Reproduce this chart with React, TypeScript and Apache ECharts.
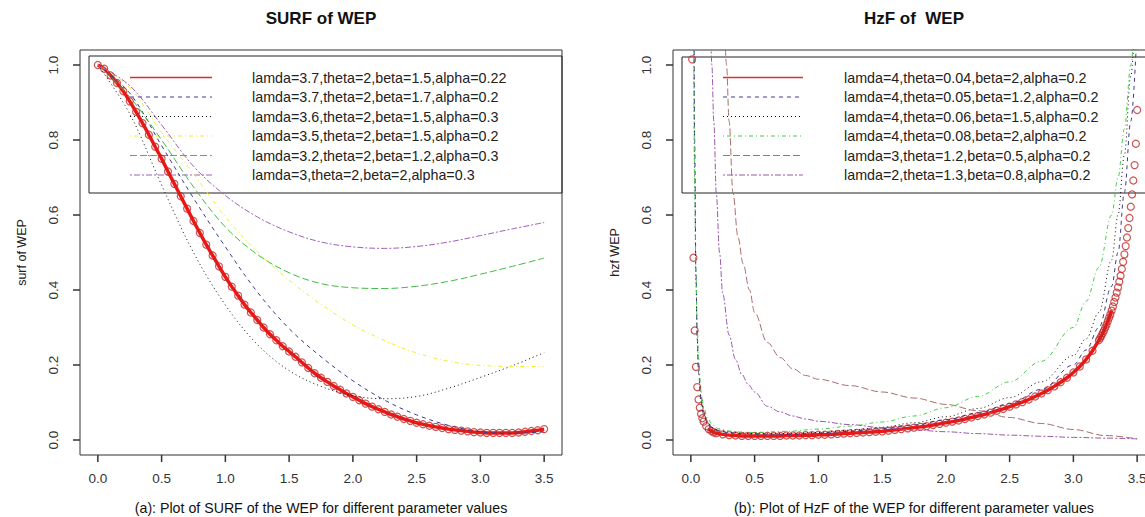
import React, { useEffect, useRef } from "react";
import * as echarts from "echarts";

const FONT = "'Liberation Sans', Arial, Helvetica, sans-serif";

// ---------- tick labels ----------
const xTickValues = [0, 0.5, 1.0, 1.5, 2.0, 2.5, 3.0, 3.5];
const yTickValues = [0, 0.2, 0.4, 0.6, 0.8, 1.0];

// ---------- texts ----------
const titleLeft = "SURF of WEP";
const titleRight = "HzF of  WEP";
const yNameLeft = "surf of WEP";
const yNameRight = "hzf WEP";
const captionLeft = "(a): Plot of SURF of the WEP for different parameter values";
const captionRight = "(b): Plot of HzF of the WEP for different parameter values";

const legendLeft = [
  "lamda=3.7,theta=2,beta=1.5,alpha=0.22",
  "lamda=3.7,theta=2,beta=1.7,alpha=0.2",
  "lamda=3.6,theta=2,beta=1.5,alpha=0.3",
  "lamda=3.5,theta=2,beta=1.5,alpha=0.2",
  "lamda=3.2,theta=2,beta=1.2,alpha=0.3",
  "lamda=3,theta=2,beta=2,alpha=0.3",
];
const legendRight = [
  "lamda=4,theta=0.04,beta=2,alpha=0.2",
  "lamda=4,theta=0.05,beta=1.2,alpha=0.2",
  "lamda=4,theta=0.06,beta=1.5,alpha=0.2",
  "lamda=4,theta=0.08,beta=2,alpha=0.2",
  "lamda=3,theta=1.2,beta=0.5,alpha=0.2",
  "lamda=2,theta=1.3,beta=0.8,alpha=0.2",
];

// ---------- styles ----------
const colorsLeft = ["#dd2a2a", "#3c3c90", "#111111", "#eeee30", "#44bb44", "#a060b8"];
const colorsRight = ["#dd3030", "#3c3c90", "#111111", "#44cc44", "#ab6d6d", "#9a5aaa"];
const DASHED = [4, 4];
const DOTTED = [1, 3];
const DOTDASH = [1, 3, 4, 3];
const LONGDASH = [7, 3];
const TWODASH = [2, 2, 6, 2];
const dashes: (number[] | null)[] = [null, DASHED, DOTTED, DOTDASH, LONGDASH, TWODASH];

// ---------- left panel data (survival function) ----------
const xSurfRed = [
  0.0, 0.05, 0.1, 0.15, 0.2, 0.25, 0.3, 0.35, 0.4, 0.45, 0.5, 0.55, 0.6, 0.65, 0.7, 0.75, 0.8, 0.85, 0.9, 0.95,
  1.0, 1.05, 1.1, 1.15, 1.2, 1.25, 1.3, 1.35, 1.4, 1.45, 1.5, 1.55, 1.6, 1.65, 1.7, 1.75, 1.8, 1.85, 1.9, 1.95,
  2.0, 2.05, 2.1, 2.15, 2.2, 2.25, 2.3, 2.35, 2.4, 2.45, 2.5, 2.55, 2.6, 2.65, 2.7, 2.75, 2.8, 2.85, 2.9, 2.95,
  3.0, 3.05, 3.1, 3.15, 3.2, 3.25, 3.3, 3.35, 3.4, 3.45, 3.5,
];
const surfRed = [
  1.0, 0.99, 0.972, 0.952, 0.93, 0.903, 0.875, 0.845, 0.814, 0.782, 0.75, 0.716, 0.683, 0.65, 0.617, 0.584, 0.552, 0.521, 0.492, 0.463,
  0.435, 0.409, 0.385, 0.361, 0.34, 0.32, 0.3, 0.282, 0.266, 0.25, 0.236, 0.222, 0.207, 0.192, 0.178, 0.166, 0.155, 0.144, 0.134, 0.124,
  0.115, 0.106, 0.097, 0.089, 0.082, 0.075, 0.068, 0.062, 0.056, 0.051, 0.046, 0.042, 0.038, 0.035, 0.032, 0.029, 0.027, 0.025, 0.023, 0.021,
  0.02, 0.019, 0.019, 0.019, 0.019, 0.019, 0.02, 0.022, 0.024, 0.026, 0.029,
];
const xSurf = [0, 0.25, 0.5, 0.75, 1.0, 1.25, 1.5, 1.75, 2.0, 2.25, 2.5, 2.75, 3.0, 3.25, 3.5];
const surfBlue = [1.0, 0.925, 0.785, 0.645, 0.515, 0.395, 0.297, 0.222, 0.158, 0.106, 0.067, 0.039, 0.022, 0.018, 0.022];
const surfBlack = [1.0, 0.87, 0.68, 0.5, 0.36, 0.255, 0.185, 0.143, 0.118, 0.11, 0.116, 0.138, 0.167, 0.198, 0.233];
const surfYellow = [1.0, 0.94, 0.82, 0.71, 0.595, 0.502, 0.426, 0.362, 0.307, 0.265, 0.232, 0.21, 0.199, 0.196, 0.196];
const surfGreen = [1.0, 0.915, 0.8, 0.675, 0.568, 0.495, 0.446, 0.417, 0.406, 0.404, 0.41, 0.423, 0.442, 0.463, 0.485];
const surfPurple = [1.0, 0.945, 0.84, 0.73, 0.652, 0.595, 0.555, 0.528, 0.515, 0.511, 0.516, 0.528, 0.545, 0.563, 0.58];

// ---------- right panel data (hazard function) ----------
const xHzRed = [
  0.01, 0.02, 0.03, 0.04, 0.05, 0.06, 0.07, 0.08, 0.09, 0.1, 0.12, 0.14, 0.16, 0.18, 0.2, 0.25, 0.3, 0.35,
  0.4, 0.45, 0.5, 0.55, 0.6, 0.65, 0.7, 0.75, 0.8, 0.85, 0.9, 0.95, 1.0, 1.05, 1.1, 1.15, 1.2, 1.25, 1.3, 1.35,
  1.4, 1.45, 1.5, 1.55, 1.6, 1.65, 1.7, 1.75, 1.8, 1.85, 1.9, 1.95, 2.0, 2.05, 2.1, 2.15, 2.2, 2.25, 2.3, 2.35,
  2.4, 2.45, 2.5, 2.55, 2.6, 2.65, 2.7, 2.75, 2.8, 2.85, 2.9, 2.95, 3.0, 3.05, 3.1, 3.15,
  3.2, 3.21, 3.22, 3.23, 3.24, 3.25, 3.26, 3.27, 3.28, 3.29, 3.3, 3.31, 3.32, 3.33, 3.34, 3.35,
  3.36, 3.37, 3.38, 3.39, 3.4, 3.41, 3.42, 3.43, 3.44, 3.45, 3.46, 3.47, 3.48, 3.49, 3.5,
];
const hzRed = [
  1.015, 0.486, 0.292, 0.195, 0.141, 0.108, 0.086, 0.07, 0.058, 0.049, 0.037, 0.029, 0.024, 0.02, 0.018, 0.015, 0.013, 0.012,
  0.011, 0.011, 0.011, 0.011, 0.011, 0.011, 0.011, 0.012, 0.012, 0.012, 0.013, 0.013, 0.014, 0.014, 0.015, 0.016, 0.017, 0.018, 0.019, 0.02,
  0.021, 0.022, 0.023, 0.025, 0.027, 0.029, 0.031, 0.033, 0.035, 0.037, 0.04, 0.043, 0.046, 0.049, 0.052, 0.056, 0.06, 0.064, 0.068, 0.073,
  0.078, 0.083, 0.089, 0.095, 0.101, 0.108, 0.116, 0.124, 0.133, 0.143, 0.154, 0.166, 0.18, 0.196, 0.215, 0.238,
  0.266, 0.272, 0.278, 0.285, 0.292, 0.3, 0.308, 0.317, 0.326, 0.335, 0.345, 0.356, 0.368, 0.38, 0.393, 0.407,
  0.422, 0.438, 0.456, 0.475, 0.495, 0.517, 0.54, 0.565, 0.592, 0.622, 0.655, 0.692, 0.733, 0.79, 0.88,
];
const xHz = [
  0.01, 0.02, 0.03, 0.04, 0.05, 0.06, 0.08, 0.1, 0.13, 0.17, 0.22, 0.3, 0.4, 0.5, 0.75, 1.0, 1.25, 1.5, 1.75, 2.0,
  2.25, 2.5, 2.75, 3.0, 3.1, 3.2, 3.3, 3.35, 3.4, 3.45, 3.5,
];
const hzBlue = [
  3.0, 1.4, 0.8, 0.45, 0.27, 0.18, 0.1, 0.068, 0.045, 0.031, 0.024, 0.019, 0.017, 0.016, 0.015, 0.018, 0.023, 0.03, 0.04, 0.054,
  0.072, 0.097, 0.135, 0.2, 0.24, 0.3, 0.41, 0.5, 0.66, 0.85, 1.1,
];
const hzBlack = [
  2.5, 1.2, 0.7, 0.42, 0.27, 0.19, 0.11, 0.074, 0.048, 0.033, 0.026, 0.021, 0.018, 0.017, 0.017, 0.02, 0.026, 0.034, 0.046, 0.062,
  0.084, 0.113, 0.155, 0.225, 0.27, 0.34, 0.48, 0.6, 0.76, 0.97, 1.25,
];
const hzGreen = [
  2.2, 1.1, 0.68, 0.45, 0.31, 0.22, 0.13, 0.088, 0.058, 0.04, 0.03, 0.024, 0.021, 0.02, 0.023, 0.029, 0.037, 0.048, 0.064, 0.086,
  0.116, 0.155, 0.21, 0.3, 0.37, 0.46, 0.6, 0.7, 0.83, 1.0, 1.25,
];
const xHzBrown = [0.26, 0.28, 0.3, 0.33, 0.37, 0.41, 0.46, 0.5, 0.6, 0.7, 0.8, 0.9, 1.0, 1.25, 1.5, 1.75, 2.0, 2.25, 2.5, 2.75, 3.0, 3.25, 3.5];
const hzBrown = [1.15, 1.0, 0.85, 0.66, 0.54, 0.47, 0.4, 0.34, 0.26, 0.22, 0.19, 0.172, 0.162, 0.145, 0.128, 0.112, 0.095, 0.078, 0.06, 0.044, 0.028, 0.012, 0.003];
const xHzPurple = [0.155, 0.165, 0.18, 0.2, 0.225, 0.25, 0.3, 0.35, 0.4, 0.45, 0.5, 0.6, 0.7, 0.8, 0.9, 1.0, 1.25, 1.5, 1.75, 2.0, 2.25, 2.5, 2.75, 3.0, 3.25, 3.5];
const hzPurple = [1.1, 1.0, 0.85, 0.655, 0.5, 0.39, 0.28, 0.215, 0.175, 0.148, 0.128, 0.09, 0.075, 0.064, 0.056, 0.05, 0.041, 0.033, 0.027, 0.022, 0.017, 0.013, 0.01, 0.007, 0.005, 0.003];

// ---------- helpers ----------
const zip = (xs: number[], ys: number[]) => xs.map((x, i) => [x, ys[i]]);

// plot-box ranges (R style: data range extended by 4%)
const X_MIN = -0.14, X_MAX = 3.64, Y_MIN = -0.04, Y_MAX = 1.04;
const BOX_W = 482, BOX_H = 405, BOX_TOP = 50;
const TICK_LEN = 7;
const TICK_W = 1.5;

function xAxisFor(gridIndex: number) {
  return {
    type: "value",
    gridIndex,
    min: X_MIN,
    max: X_MAX,
    axisLine: { show: false, onZero: false },
    axisTick: { show: false },
    splitLine: { show: false },
    axisLabel: {
      customValues: xTickValues,
      formatter: (v: number) => v.toFixed(1),
      fontSize: 13.5,
      color: "#333",
      margin: 16,
      fontFamily: FONT,
    },
  };
}
function yAxisFor(gridIndex: number, name: string) {
  return {
    type: "value",
    gridIndex,
    min: Y_MIN,
    max: Y_MAX,
    name,
    nameLocation: "middle",
    nameGap: 52,
    nameRotate: 90,
    nameTextStyle: { fontSize: 12.5, color: "#222", fontFamily: FONT },
    axisLine: { show: false, onZero: false },
    axisTick: { show: false },
    splitLine: { show: false },
    axisLabel: {
      customValues: yTickValues,
      formatter: (v: number) => v.toFixed(1),
      rotate: 90,
      fontSize: 13.5,
      color: "#333",
      margin: 20,
      fontFamily: FONT,
    },
  };
}

function lineSeries(idx: number, data: number[][], color: string, dash: number[], smooth = 0.35) {
  const s: any = {
    type: "line",
    xAxisIndex: idx,
    yAxisIndex: idx,
    data,
    showSymbol: false,
    smooth,
    clip: true,
    lineStyle: { color, width: 1, type: dash },
    z: 3,
  };
  if (idx === 1) s.smoothMonotone = "x";
  return s;
}

function circleSeries(idx: number, data: number[][], bandFrom: number, bandTo: number) {
  return [
    {
      type: "line",
      xAxisIndex: idx,
      yAxisIndex: idx,
      data: data.filter((p) => p[0] >= bandFrom && p[0] <= bandTo),
      showSymbol: false,
      smooth: 0.2,
      clip: true,
      lineStyle: { color: "#ee1515", width: 3.5 },
      z: 2,
    },
    {
      type: "scatter",
      xAxisIndex: idx,
      yAxisIndex: idx,
      data,
      symbol: "circle",
      symbolSize: 7,
      clip: true,
      itemStyle: { color: "rgba(0,0,0,0)", borderColor: "#c02828", borderWidth: 1.2 },
      z: 2,
    },
  ];
}

function legendGraphics(
  box: { x: number; y: number; w: number; h: number },
  lineX1: number,
  lineX2: number,
  textX: number,
  labels: string[],
  colors: string[],
  rowY0: number,
  rowStep: number
) {
  const children: any[] = [
    {
      type: "rect",
      shape: { x: box.x, y: box.y, width: box.w, height: box.h },
      style: { fill: "rgba(255,255,255,0)", stroke: "#222", lineWidth: 1 },
    },
  ];
  labels.forEach((label, i) => {
    const y = rowY0 + i * rowStep;
    const d = dashes[i];
    if (d) {
      children.push({ type: "line", shape: { x1: lineX1, y1: y, x2: lineX2, y2: y }, style: { stroke: colors[i], lineWidth: 1.2, lineDash: d } });
    } else {
      children.push({ type: "rect", shape: { x: lineX1, y: y - 0.75, width: lineX2 - lineX1, height: 1.5 }, style: { fill: colors[i] } });
    }
    children.push({
      type: "text",
      x: textX,
      y,
      style: { text: label, fill: "#222", font: `14.3px ${FONT}`, textAlign: "left", textVerticalAlign: "middle" },
    });
  });
  return { type: "group", z: 10, children };
}

function textEl(text: string, x: number, y: number, font: string) {
  return {
    type: "text",
    x,
    y,
    style: { text, fill: "#111", font, textAlign: "center", textVerticalAlign: "middle" },
    z: 10,
  };
}

// tick marks: positions come from the chart's own axis scales (convertToPixel)
function tickGraphics(chart: echarts.ECharts, gridIndex: number) {
  const els: any[] = [];
  xTickValues.forEach((v) => {
    const p = chart.convertToPixel({ gridIndex } as any, [v, Y_MIN]) as number[];
    els.push({
      type: "rect",
      shape: { x: p[0] - TICK_W / 2, y: p[1], width: TICK_W, height: TICK_LEN },
      style: { fill: "#333" },
      z: 12,
    });
  });
  yTickValues.forEach((v) => {
    const p = chart.convertToPixel({ gridIndex } as any, [X_MIN, v]) as number[];
    els.push({
      type: "rect",
      shape: { x: p[0] - TICK_LEN, y: p[1] - TICK_W / 2, width: TICK_LEN, height: TICK_W },
      style: { fill: "#333" },
      z: 12,
    });
  });
  return els;
}

export default function App() {
  const ref = useRef<HTMLDivElement>(null);

  useEffect(() => {
    const chart = echarts.init(ref.current!, null, { renderer: "svg" });

    const boxBase = { show: true, borderColor: "#333", borderWidth: 1, backgroundColor: "transparent", outerBoundsMode: "none", containLabel: false, top: BOX_TOP, width: BOX_W, height: BOX_H };

    const baseGraphics = [
      textEl(titleLeft, 321, 18, `bold 17px ${FONT}`),
      textEl(titleRight, 914, 18, `bold 17px ${FONT}`),
      textEl(captionLeft, 321, 508, `14.2px ${FONT}`),
      textEl(captionRight, 914, 508, `14.2px ${FONT}`),
      legendGraphics({ x: 89, y: 56, w: 473, h: 137 }, 130, 212, 252, legendLeft, colorsLeft, 77.5, 19.5),
      legendGraphics({ x: 682, y: 57, w: 480, h: 136 }, 723, 803, 844, legendRight, colorsRight, 77.5, 19.5),
    ];

    const option: any = {
      animation: false,
      backgroundColor: "#ffffff",
      grid: [
        { ...boxBase, left: 80 },
        { ...boxBase, left: 673 },
      ],
      xAxis: [xAxisFor(0), xAxisFor(1)],
      yAxis: [yAxisFor(0, yNameLeft), yAxisFor(1, yNameRight)],
      series: [
        ...circleSeries(0, zip(xSurfRed, surfRed), 0, 3.5),
        lineSeries(0, zip(xSurf, surfBlue), colorsLeft[1], DASHED),
        lineSeries(0, zip(xSurf, surfBlack), colorsLeft[2], DOTTED),
        lineSeries(0, zip(xSurf, surfYellow), colorsLeft[3], DOTDASH),
        lineSeries(0, zip(xSurf, surfGreen), colorsLeft[4], LONGDASH),
        lineSeries(0, zip(xSurf, surfPurple), colorsLeft[5], TWODASH),
        ...circleSeries(1, zip(xHzRed, hzRed), 0.14, 3.3),
        lineSeries(1, zip(xHz, hzBlue), colorsRight[1], DASHED),
        lineSeries(1, zip(xHz, hzBlack), colorsRight[2], DOTTED),
        lineSeries(1, zip(xHz, hzGreen), colorsRight[3], DOTDASH),
        lineSeries(1, zip(xHzBrown, hzBrown), colorsRight[4], LONGDASH),
        lineSeries(1, zip(xHzPurple, hzPurple), colorsRight[5], TWODASH),
      ],
      graphic: baseGraphics,
    };

    chart.setOption(option);
    // add the tick marks once the axes exist, using the axes' scales
    chart.setOption({
      graphic: [...baseGraphics, ...tickGraphics(chart, 0), ...tickGraphics(chart, 1)],
    });
    return () => chart.dispose();
  }, []);

  return (
    <div
      ref={ref}
      style={{ position: "fixed", left: 0, top: 0, width: 1165, height: 517, background: "#fff" }}
    />
  );
}
